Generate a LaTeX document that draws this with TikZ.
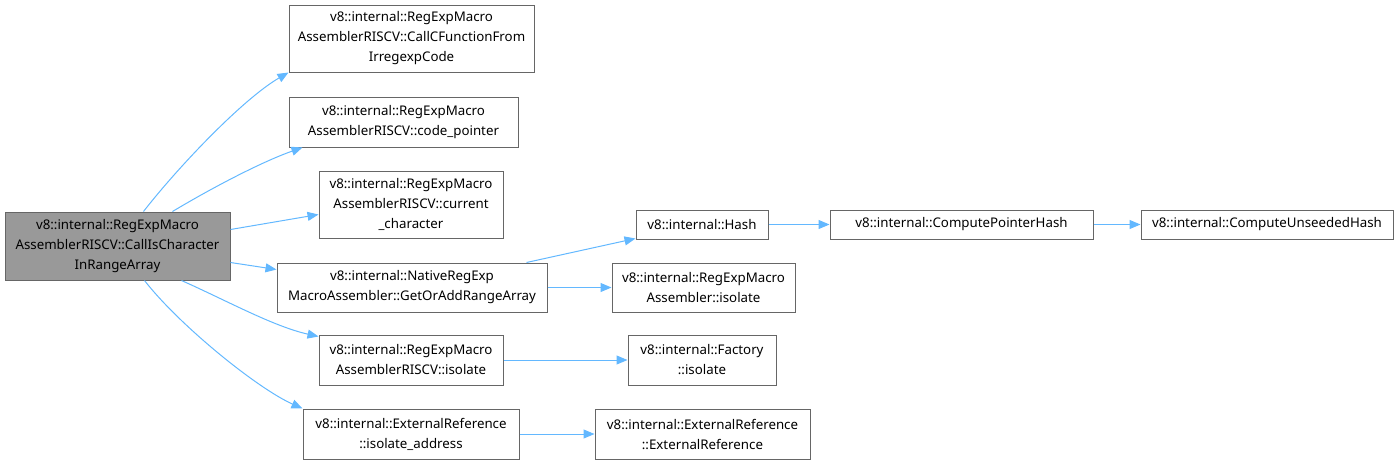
\documentclass[tikz,border=0pt]{standalone}
\usepackage{fontspec}
\setmainfont{Noto Sans}
\usetikzlibrary{arrows.meta}

\definecolor{boxgray}{HTML}{666666}
\definecolor{curgray}{HTML}{999999}
\definecolor{edgeblue}{HTML}{63B8FF}

\begin{document}
\begin{tikzpicture}
[
  x=1pt, y=-1pt,
  font=\fontsize{13.3}{20}\selectfont,
  fn/.style={draw=boxgray, fill=white, line width=1pt, align=center, inner sep=0pt},
  cur/.style={fn, fill=curgray},
  call/.style={draw=edgeblue, line width=1pt, -{Triangle[length=11pt,width=9pt]}}
]
  \useasboundingbox (0,0) rectangle (1398,464);

  \node[cur, minimum width=225pt, minimum height=68pt] (root) at (117.5,246)
    {v8::internal::RegExpMacro\\AssemblerRISCV::CallIsCharacter\\InRangeArray};

  \node[fn, minimum width=245pt, minimum height=67pt] (cfunc) at (411.5,38.5)
    {v8::internal::RegExpMacro\\AssemblerRISCV::CallCFunctionFrom\\IrregexpCode};
  \node[fn, minimum width=229pt, minimum height=50pt] (codeptr) at (403.5,122)
    {v8::internal::RegExpMacro\\AssemblerRISCV::code\_pointer};
  \node[fn, minimum width=184pt, minimum height=67pt] (curchar) at (411,204.5)
    {v8::internal::RegExpMacro\\AssemblerRISCV::current\\\_character};
  \node[fn, minimum width=270pt, minimum height=49pt] (rangearr) at (412,287.5)
    {v8::internal::NativeRegExp\\MacroAssembler::GetOrAddRangeArray};
  \node[fn, minimum width=184pt, minimum height=50pt] (isoriscv) at (411,360)
    {v8::internal::RegExpMacro\\AssemblerRISCV::isolate};
  \node[fn, minimum width=216pt, minimum height=50pt] (isoaddr) at (411,434)
    {v8::internal::ExternalReference\\::isolate\_address};

  \node[fn, minimum width=132pt, minimum height=29pt] (hash) at (702,224.5)
    {v8::internal::Hash};
  \node[fn, minimum width=183pt, minimum height=49pt] (rmaiso) at (703.5,287.5)
    {v8::internal::RegExpMacro\\Assembler::isolate};
  \node[fn, minimum width=148pt, minimum height=50pt] (factiso) at (702,360)
    {v8::internal::Factory\\::isolate};
  \node[fn, minimum width=215pt, minimum height=50pt] (extref) at (702.5,434)
    {v8::internal::ExternalReference\\::ExternalReference};

  \node[fn, minimum width=263pt, minimum height=29pt] (cptrhash) at (961.5,224.5)
    {v8::internal::ComputePointerHash};
  \node[fn, minimum width=252pt, minimum height=29pt] (cunhash) at (1267,224.5)
    {v8::internal::ComputeUnseededHash};

  \draw[call] ([xshift=139pt]root.north west) .. controls +(35,-45) and +(-45,26) .. (cfunc.south west);
  \draw[call] ([xshift=168pt]root.north west) .. controls +(40,-24) and +(-40,14) .. ([xshift=14pt]codeptr.south west);
  \draw[call] ([yshift=-18pt]root.north east) -- ([yshift=-44pt]curchar.north west);
  \draw[call] ([yshift=18pt]root.south east) -- ([yshift=-7pt]rangearr.north west);
  \draw[call] ([xshift=177pt]root.south west) .. controls +(45,20) and +(-45,-10) .. ([yshift=-2pt]isoriscv.north west);
  \draw[call] ([xshift=140pt]root.south west) .. controls +(35,45) and +(-45,-20) .. (isoaddr.north west);

  \draw[call] ([xshift=250pt]rangearr.north west) -- ([yshift=1pt]hash.south west);
  \draw[call] (rangearr.east) -- (rmaiso.west);
  \draw[call] (isoriscv.east) -- (factiso.west);
  \draw[call] (isoaddr.east) -- (extref.west);
  \draw[call] (hash.east) -- (cptrhash.west);
  \draw[call] (cptrhash.east) -- (cunhash.west);
\end{tikzpicture}
\end{document}
